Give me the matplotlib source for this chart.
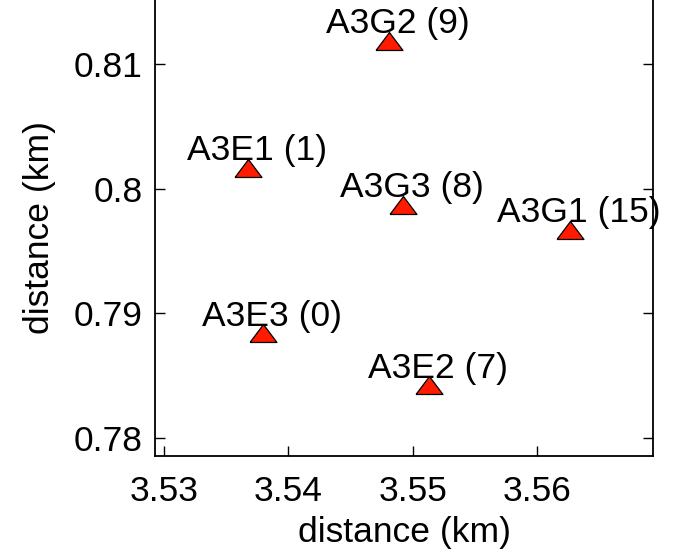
import matplotlib
matplotlib.use('Agg')
import matplotlib.pyplot as plt
import numpy as np

# station positions (km)
names = ['A3G2 (9)', 'A3E1 (1)', 'A3G3 (8)', 'A3G1 (15)', 'A3E3 (0)', 'A3E2 (7)']
x_km = [3.5481, 3.5368, 3.5492, 3.5626, 3.5380, 3.5513]
y_km = [0.8119, 0.8017, 0.7987, 0.7967, 0.7884, 0.7842]

xticks = [3.53, 3.54, 3.55, 3.56]
yticks = [0.78, 0.79, 0.80, 0.81]
ytick_labels = ['0.78', '0.79', '0.8', '0.81']

plt.rcParams['font.family'] = ['Liberation Sans', 'DejaVu Sans']
fs = 25.5

W, H = 681, 551
fig = plt.figure(figsize=(W / 100, H / 100), dpi=100)
ax = fig.add_axes([155 / W, 1 - 455.7 / H, (653 - 155) / W, 455.7 / H])

# flattened triangle like the matlab marker
tri = [(-1.5, -1.0), (1.5, -1.0), (0.0, 1.0), (-1.5, -1.0)]
ax.plot(x_km, y_km, linestyle='none', marker=tri, markersize=19.4,
        markerfacecolor='#ff1a00', markeredgecolor='black', markeredgewidth=0.9,
        zorder=3)

for n, xv, yv in zip(names, x_km, y_km):
    ax.annotate(n, (xv, yv), xytext=(9, 17), textcoords='offset pixels',
                ha='center', va='center', fontsize=fs, zorder=4)

ax.set_xlim(3.5293, 3.5693)
ax.set_ylim(0.77854, 0.81517)
ax.set_xticks(xticks)
ax.set_xticklabels([f'{t:.2f}' for t in xticks])
ax.set_yticks(yticks)
ax.set_yticklabels(ytick_labels)
ax.tick_params(direction='in', length=7, width=1.0, labelsize=fs,
               right=True, top=False)
ax.tick_params(axis='x', pad=14)
ax.tick_params(axis='y', pad=9)
ax.spines['top'].set_visible(False)
for s in ['left', 'right', 'bottom']:
    ax.spines[s].set_linewidth(1.3)

ax.set_xlabel('distance (km)', fontsize=fs, labelpad=6)
ax.set_ylabel('distance (km)', fontsize=fs, labelpad=13)

fig.savefig('out.png', dpi=100)
